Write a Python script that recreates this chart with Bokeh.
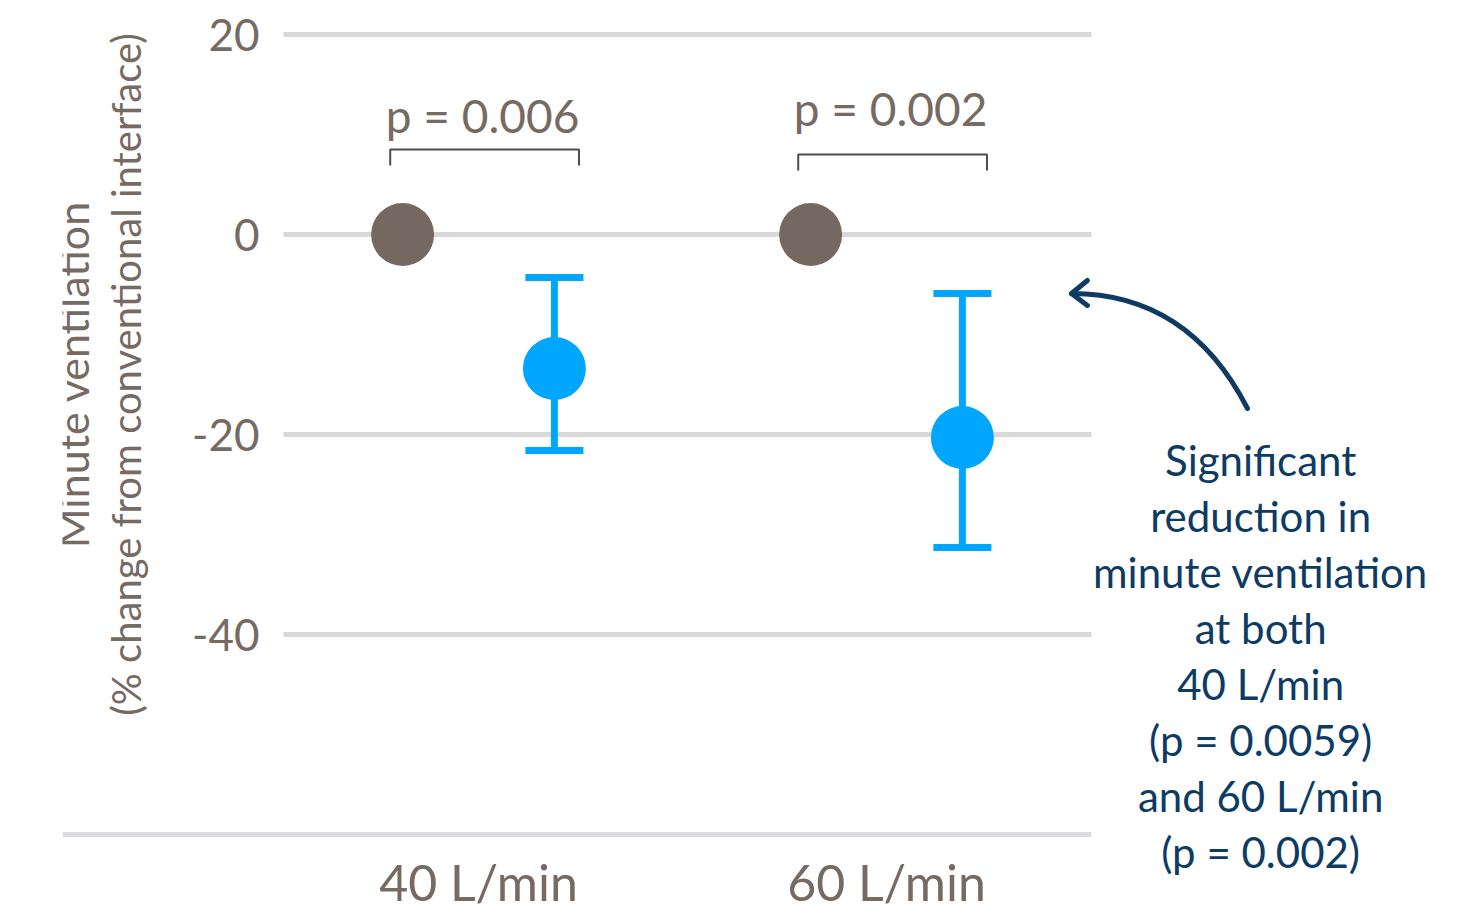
import math
from bokeh.plotting import figure
from bokeh.models import Range1d, FixedTicker, Whisker, TeeHead, ColumnDataSource
from bokeh.core.properties import value
from bokeh.embed import file_html
from bokeh.resources import INLINE

# ---- data ----
categories = ["40 L/min", "60 L/min"]
conventional = [0.0, 0.0]
new_mean = [-13.4, -20.3]
new_upper = [-4.3, -5.9]
new_lower = [-21.6, -31.3]
p_labels = ["p = 0.006", "p = 0.002"]
p_text_y = [11.9, 12.6]
bracket_y = [8.5, 8.0]
y_ticks = [20, 0, -20, -40]
note_lines = ["Significant", "reduction in", "minute ventilation", "at both",
              "40 L/min", "(p = 0.0059)", "and 60 L/min", "(p = 0.002)"]

TXT = "#766a62"
GRAY = "#756860"
BLUE = "#00a6ff"
NAVY = "#0e3b63"
GRID = "#d9d9d9"

pos = list(range(len(categories)))
dodge = 0.186

p = figure(width=1481, height=914, x_range=Range1d(-1.01961, 2.45833),
           y_range=Range1d(-68.0, 23.4), output_backend="svg", toolbar_location=None,
           min_border_left=62, min_border_right=0, min_border_top=0, min_border_bottom=0)
p.outline_line_color = None
p.grid.visible = False
p.background_fill_color = "white"
p.border_fill_color = "white"

# grid lines
grid_x0, grid_x1 = -0.478, 1.5025
p.segment(x0=[grid_x0] * len(y_ticks), x1=[grid_x1] * len(y_ticks), y0=y_ticks, y1=y_ticks,
          line_color=GRID, line_width=5, level="underlay")

# y axis
ya = p.yaxis[0]
ya.fixed_location = grid_x0
ya.ticker = FixedTicker(ticks=y_ticks)
ya.major_label_overrides = {t: str(t) for t in y_ticks}
ya.axis_line_color = None
ya.major_tick_line_color = None
ya.minor_tick_line_color = None
ya.major_label_standoff = 18
ya.major_label_text_font = "Lato"
ya.major_label_text_font_size = "44px"
ya.major_label_text_color = TXT

# x axis
xa = p.xaxis[0]
xa.fixed_location = -60
xa.bounds = (-1.01961, grid_x1)
xa.ticker = FixedTicker(ticks=pos)
xa.major_label_overrides = {i: c for i, c in zip(pos, categories)}
xa.axis_line_color = "#dadcdf"
xa.axis_line_width = 5
xa.major_tick_line_color = None
xa.minor_tick_line_color = None
xa.major_label_standoff = 11
xa.major_label_text_font = "Lato"
xa.major_label_text_font_size = "50px"
xa.major_label_text_color = TXT

# error bars
src = ColumnDataSource(dict(x=[c + dodge for c in pos], m=new_mean, up=new_upper, lo=new_lower))
w = Whisker(base="x", upper="up", lower="lo", source=src, dimension="height",
            line_color=BLUE, line_width=7, level="glyph",
            upper_head=TeeHead(size=58, line_color=BLUE, line_width=7),
            lower_head=TeeHead(size=58, line_color=BLUE, line_width=7))
p.add_layout(w)

# dots
p.scatter([c - dodge for c in pos], conventional, size=63, color=GRAY, line_color=None)
p.scatter("x", "m", source=src, size=63, color=BLUE, line_color=None)

# brackets
bl, br, tick = -0.2164, 0.2463, 1.6
xs = [[c + bl, c + bl, c + br, c + br] for c in pos]
ys = [[b - tick, b, b, b - tick] for b in bracket_y]
p.multi_line(xs, ys, line_color="#4d4d4d", line_width=2)
p.text([c + 0.01 for c in pos], p_text_y, text=p_labels, text_font=value("Lato"),
       text_font_size="46px", text_color=TXT, text_align="center", text_baseline="alphabetic")

# y title
p.text([-0.995], [-14], text=["Minute ventilation"], angle=math.pi / 2, text_font=value("Lato"),
       text_font_size="43px", text_color=TXT, text_align="center", text_baseline="middle")
p.text([-0.865], [-14], text=["(% change from conventional interface)"], angle=math.pi / 2,
       text_font=value("Lato"), text_font_size="40px", text_color=TXT,
       text_align="center", text_baseline="middle")

# annotation
note_x = 1.917
note_y0, note_dy = -22.5, 5.6
p.text([note_x] * len(note_lines), [note_y0 - i * note_dy for i in range(len(note_lines))],
       text=note_lines, text_font=value("Lato"), text_font_size="42px", text_color=NAVY,
       text_align="center", text_baseline="alphabetic")

tip_x, tip_y = pos[1] + 0.4534, new_upper[1]
p.quadratic(x0=[1.8848], y0=[-17.4], x1=[tip_x], y1=[tip_y], cx=[1.7402], cy=[tip_y],
            line_color=NAVY, line_width=5, line_cap="round")
p.line([tip_x + 0.039, tip_x, tip_x + 0.039], [tip_y + 1.3, tip_y, tip_y - 1.2],
       line_color=NAVY, line_width=5, line_cap="round", line_join="round")

open("out.html", "w").write(file_html(p, INLINE))
